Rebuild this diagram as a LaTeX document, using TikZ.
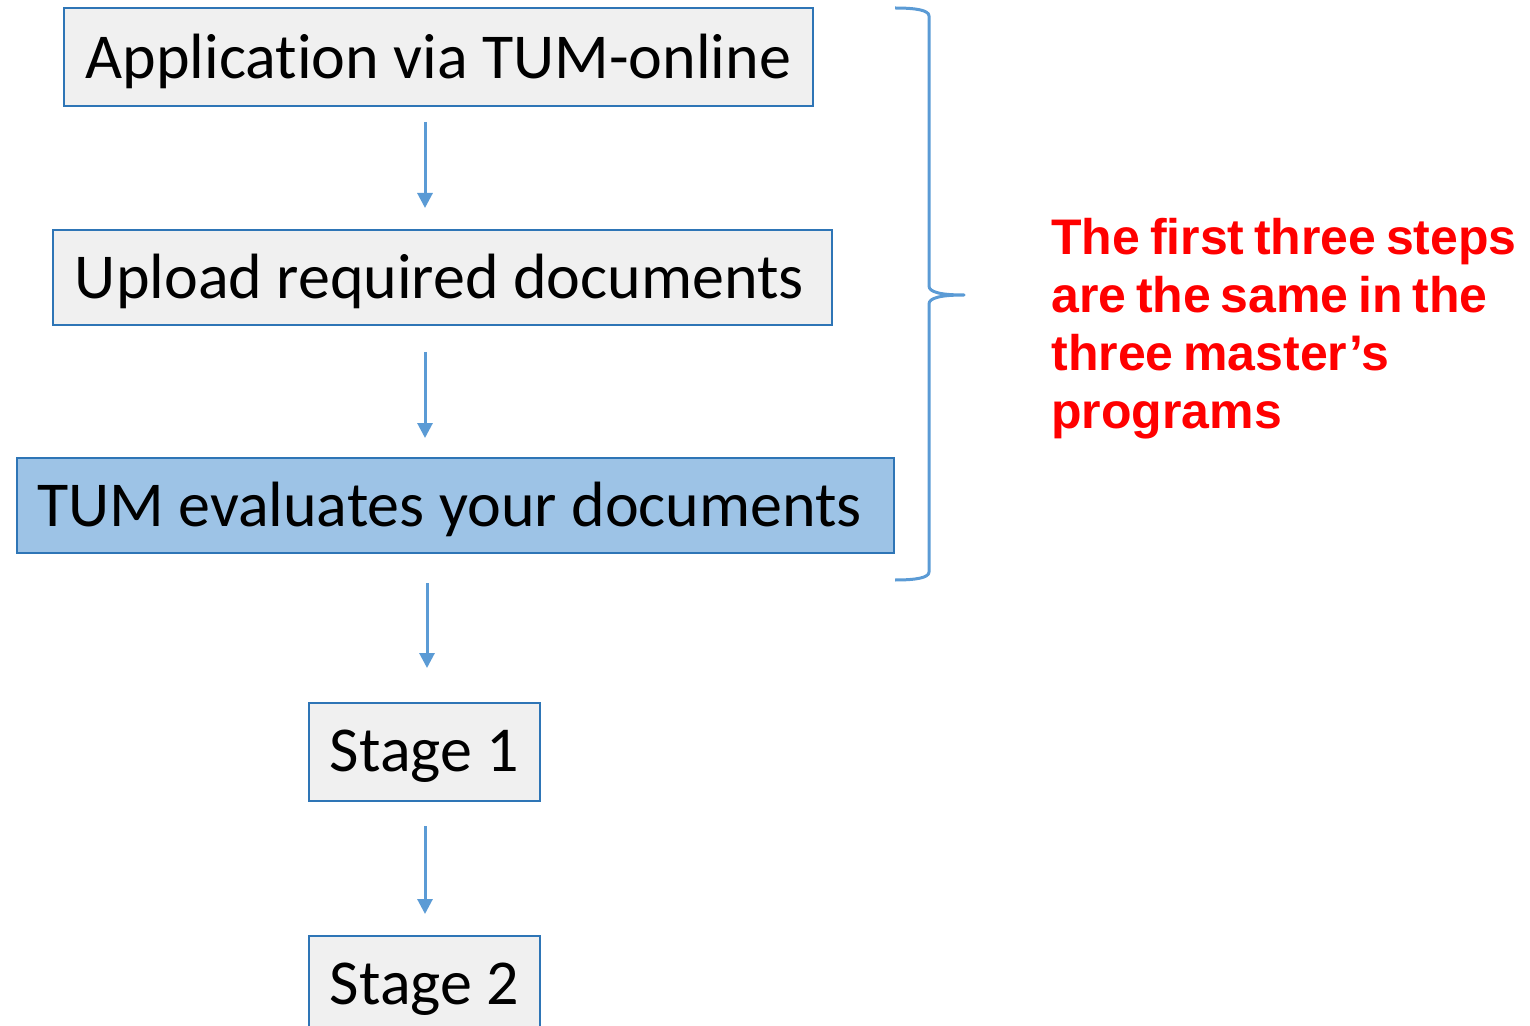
\documentclass[tikz,border=0pt]{standalone}
\usepackage{fontspec}
\setmainfont{Carlito}[Ligatures=NoCommon]
\newfontfamily\notefont{Liberation Sans}[WordSpace=0.7]
\usetikzlibrary{arrows.meta}
\definecolor{lineblue}{HTML}{5B9BD5}
\definecolor{edgeblue}{HTML}{2E75B6}
\definecolor{boxgray}{HTML}{F0F0F0}
\definecolor{boxblue}{HTML}{9DC3E6}
\definecolor{notered}{HTML}{FF0000}
% lower a label inside its box without changing the box size
\newcommand{\lowered}[1]{\raisebox{-2pt}[\height][\depth]{#1}}
\begin{document}
\begin{tikzpicture}[x=0.5pt,y=-0.5pt,
  stepbox/.style={draw=edgeblue, line width=1pt, fill=boxgray, inner sep=0pt,
    font=\fontsize{32}{38}\selectfont, text=black},
  flow/.style={draw=lineblue, line width=1.5pt, -{Triangle[width=7.5pt,length=7.5pt]}},
  brace/.style={draw=lineblue, line width=1.5pt, line join=round}]
\useasboundingbox (0,0) rectangle (1530,1026);

\node[stepbox, minimum width=374.5pt, minimum height=49pt] (apply) at (438.5,57) {\lowered{Application via TUM-online}};
\node[stepbox, minimum width=389.5pt, minimum height=47.5pt] (upload) at (442.5,277.5) {\lowered{\hspace*{-3pt}Upload required documents}};
\node[stepbox, fill=boxblue, minimum width=438.5pt, minimum height=47.5pt] (eval) at (455.5,505.5) {\lowered{\hspace*{-6pt}TUM evaluates your documents}};
\node[stepbox, minimum width=115.5pt, minimum height=49pt] (stage1) at (424.5,752) {\lowered{Stage 1}};
\node[stepbox, minimum width=115.5pt, minimum height=49pt] (stage2) at (424.5,985) {\lowered{Stage 2}};

\draw[flow, shorten <=7.5pt, shorten >=10.5pt] (apply.south -| 425,0) -- (upload.north -| 425,0);
\draw[flow, shorten <=13pt, shorten >=9.5pt] (upload.south -| 425,0) -- (eval.north -| 425,0);
\draw[flow, shorten <=14.5pt, shorten >=17pt] (eval.south -| 427,0) -- (stage1.north -| 427,0);
\draw[flow, shorten <=12pt, shorten >=10.5pt] (stage1.south -| 425,0) -- (stage2.north -| 425,0);

% curly brace grouping the first three steps
\coordinate (btop) at (895,8);
\coordinate (btip) at (964,295);
\coordinate (bbot) at (895,580);
\draw[brace] (btop) .. controls (915,8) and (929,10) .. (929,16) -- (929,286)
  .. controls (929,292) and (940,295) .. (btip)
  .. controls (940,295) and (929,298) .. (929,304) -- (929,572)
  .. controls (929,578) and (915,580) .. (bbot);

\node[anchor=north west, inner sep=0pt, align=left, text=notered,
  font=\notefont\bfseries\fontsize{25}{29}\selectfont] (note) at (1051,218)
  {The first three steps\\are the same in the\\three master’s\\programs};
\end{tikzpicture}
\end{document}
